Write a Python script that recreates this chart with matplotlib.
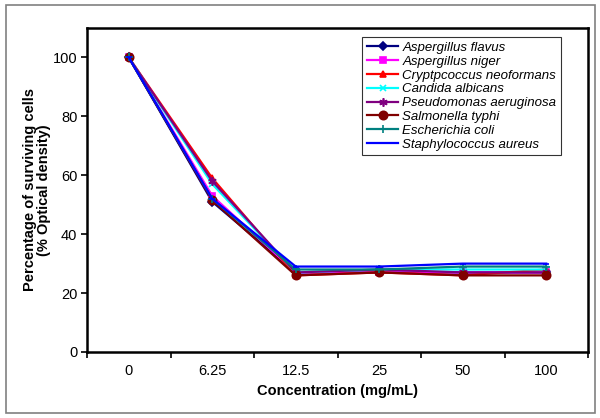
import matplotlib
matplotlib.use("Agg")
import matplotlib.pyplot as plt
from matplotlib.patches import Rectangle

categories = ["0", "6.25", "12.5", "25", "50", "100"]
flavus = [100, 51, 27, 27, 27, 27]
niger = [100, 53, 27, 27, 27, 27]
crypto = [100, 59, 26, 27, 26, 28]
candida = [100, 57, 27, 28, 28, 28]
pseudo = [100, 58, 27, 28, 27, 27]
salmonella = [100, 51.5, 26, 27, 26, 26]
ecoli = [100, 52, 28, 28, 29, 29]
staph = [100, 52, 29, 29, 30, 30]

series = [
    ("Aspergillus flavus", flavus, "#000080", "D", 4),
    ("Aspergillus niger", niger, "#FF00FF", "s", 5),
    ("Cryptpcoccus neoformans", crypto, "#FF0000", "^", 5),
    ("Candida albicans", candida, "#00FFFF", "x", 5),
    ("Pseudomonas aeruginosa", pseudo, "#800080", (6, 2, 0), 6),
    ("Salmonella typhi", salmonella, "#800000", "o", 6),
    ("Escherichia coli", ecoli, "#008080", "+", 6),
    ("Staphylococcus aureus", staph, "#0000FF", "_", 5),
]

plt.rcParams['font.family'] = ['Liberation Sans', 'DejaVu Sans']
fig = plt.figure(figsize=(6, 4.18), dpi=100)
fig.patches.append(Rectangle((0.01, 0.012), 0.982, 0.975, transform=fig.transFigure,
                             fill=False, edgecolor="#808080", linewidth=1.2))
ax = fig.add_axes([0.145, 0.158, 0.835, 0.775])

x = list(range(len(categories)))
for name, vals, col, mk, ms in series:
    ax.plot(x, vals, color=col, marker=mk, markersize=ms, linewidth=1.6,
            markeredgewidth=1.2, label=name)

ax.set_xlim(-0.5, len(categories) - 0.5)
ax.set_ylim(0, 110)
ax.set_yticks([0, 20, 40, 60, 80, 100])
ax.set_xticks([i - 0.5 for i in range(len(categories) + 1)])
ax.set_xticklabels([])
ax.set_xticks(x, minor=True)
ax.set_xticklabels(categories, minor=True)
ax.tick_params(axis='x', which='minor', length=0, pad=9, labelsize=10.5)
ax.tick_params(axis='x', which='major', length=4, width=1.2, direction='out')
ax.tick_params(axis='y', length=4, width=1.2, direction='out', labelsize=10.5, pad=3)
for s in ax.spines.values():
    s.set_linewidth(1.8)
    s.set_color("black")

ax.set_xlabel("Concentration (mg/mL)", fontsize=10.5, fontweight='bold', labelpad=4)
ax.set_ylabel("Percentage of surviving cells\n(% Optical density)", fontsize=10.5,
              fontweight='bold', labelpad=1, linespacing=1.0)

leg = ax.legend(loc='upper left', bbox_to_anchor=(0.549, 0.972), borderaxespad=0,
                fancybox=False, frameon=True, edgecolor='black',
                prop={'style': 'italic', 'size': 9.5}, handlelength=2.4,
                labelspacing=0.12, handletextpad=0.3, borderpad=0.35)
leg.get_frame().set_linewidth(0.8)

fig.savefig("out.png", dpi=100)
